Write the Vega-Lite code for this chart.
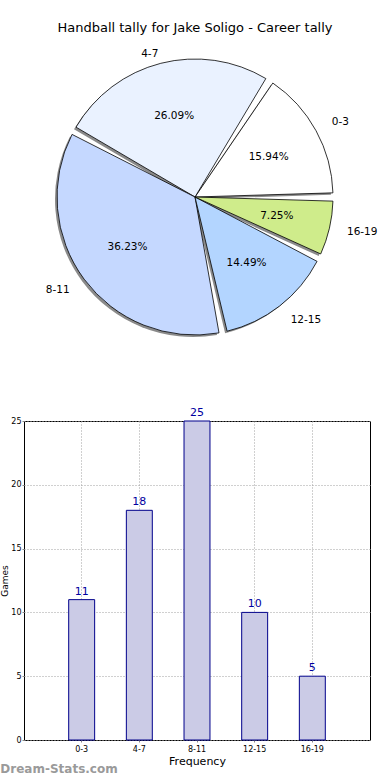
{
  "$schema": "https://vega.github.io/schema/vega-lite/v6.json",
  "padding": {"left": 0, "right": 0, "top": 22, "bottom": 0},
  "autosize": {"type": "pad"},
  "config": {"font": "DejaVu Sans", "view": {"stroke": null}},
  "datasets": {
    "tally": [
      {"range": "0-3", "idx": 0, "games": 11, "pct": "15.94%"},
      {"range": "4-7", "idx": 1, "games": 18, "pct": "26.09%"},
      {"range": "8-11", "idx": 2, "games": 25, "pct": "36.23%"},
      {"range": "12-15", "idx": 3, "games": 10, "pct": "14.49%"},
      {"range": "16-19", "idx": 4, "games": 5, "pct": "7.25%"}
    ]
  },
  "title": {"text": "Dream-Stats.com", "orient": "bottom", "anchor": "start", "color": "#9a9a9a", "fontSize": 12, "fontWeight": "bold", "offset": -3},
  "bounds": "flush",
  "spacing": 66,
  "vconcat": [
    {
      "width": 342,
      "height": 316,
      "title": {"text": "Handball tally for Jake Soligo - Career tally", "fontSize": 13, "fontWeight": "normal", "offset": 4, "color": "#000"},
      "data": {"name": "tally"},
      "encoding": {
        "theta": {"field": "games", "type": "quantitative", "stack": true, "scale": {"range": [1.5708, 7.854]}},
        "order": {"field": "idx", "type": "quantitative", "sort": "descending"}
      },
      "layer": [
        {"mark": {"type": "arc", "radius": 138, "padAngle": 0.06, "fill": "#8a8a8a", "xOffset": -2, "yOffset": 2}},
        {
          "mark": {"type": "arc", "radius": 138, "padAngle": 0.06, "stroke": "#000000", "strokeWidth": 0.8},
          "encoding": {
            "color": {"field": "range", "type": "nominal", "legend": null,
              "scale": {"domain": ["0-3", "4-7", "8-11", "12-15", "16-19"], "range": ["#ffffff", "#eaf2ff", "#c5d8ff", "#b3d5ff", "#cfec8b"]}}
          }
        },
        {"mark": {"type": "text", "radius": 84, "fontSize": 10.5, "color": "#000"}, "encoding": {"text": {"field": "pct"}}},
        {
          "mark": {"type": "text", "radius": {"expr": "datum.idx == 1 ? 148 : 156"}, "fontSize": 10.5, "align": {"expr": "datum.idx == 1 || datum.idx == 2 ? 'right' : 'left'"}, "color": "#000"},
          "encoding": {"text": {"field": "range"}}
        }
      ]
    },
    {
      "width": 346,
      "height": 319,
      "view": {"stroke": "#000000", "strokeWidth": 1},
      "data": {"name": "tally"},
      "encoding": {
        "x": {"field": "range", "type": "ordinal", "sort": ["0-3", "4-7", "8-11", "12-15", "16-19"],
          "scale": {"paddingInner": 0, "paddingOuter": 0.5},
          "axis": {"title": "Frequency", "titleFontSize": 11, "titleFontWeight": "normal", "titlePadding": 2, "labelFontSize": 8, "labelAngle": 0, "labelPadding": 3, "tickSize": 2, "domain": false, "grid": true, "bandPosition": 0.5, "gridDash": [1, 2], "gridColor": "#a0a0a0", "labelColor": "#000", "titleColor": "#000"}},
        "y": {"field": "games", "type": "quantitative", "scale": {"domain": [0, 25]},
          "axis": {"title": "Games", "titleFontSize": 9, "titleFontWeight": "normal", "titlePadding": 1, "labelFontSize": 8, "labelPadding": 1, "tickSize": 2, "values": [0, 5, 10, 15, 20, 25], "domain": false, "grid": true, "gridDash": [1, 2], "gridColor": "#a0a0a0", "labelColor": "#000", "titleColor": "#000"}}
      },
      "layer": [
        {"mark": {"type": "bar", "width": {"band": 0.45}, "fill": "#cbcbe6", "stroke": "#00008b", "strokeWidth": 1}},
        {"mark": {"type": "text", "dy": -3, "baseline": "bottom", "fontSize": 11, "color": "#0000a0"}, "encoding": {"text": {"field": "games", "type": "quantitative"}}}
      ]
    }
  ]
}
